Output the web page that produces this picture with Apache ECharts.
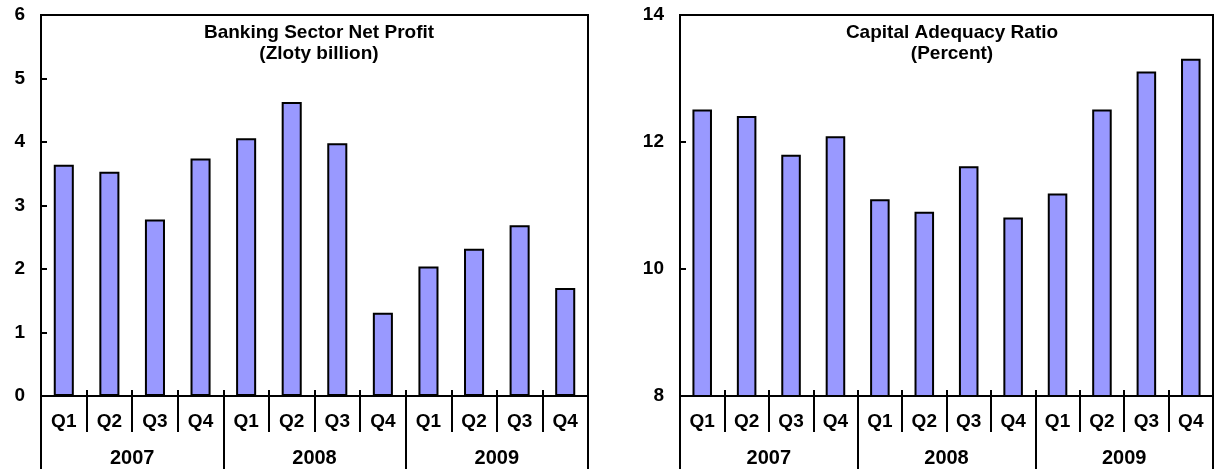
<!DOCTYPE html>
<html>
<head>
<meta charset="utf-8">
<script src="https://cdn.jsdelivr.net/npm/echarts@6/dist/echarts.min.js"></script>
<style>
  html, body { margin: 0; padding: 0; background: #fff; }
  #chart { width: 1215px; height: 469px; }
</style>
</head>
<body>
<div id="chart"></div>
<script>
// Quarterly banking indicators, 2007-2009
const quarters = ['Q1', 'Q2', 'Q3', 'Q4', 'Q1', 'Q2', 'Q3', 'Q4', 'Q1', 'Q2', 'Q3', 'Q4'];
const years = ['2007', '2008', '2009'];
const netProfit = [3.64, 3.53, 2.78, 3.74, 4.06, 4.63, 3.98, 1.31, 2.04, 2.32, 2.69, 1.70];
const capitalAdequacy = [12.51, 12.41, 11.80, 12.09, 11.10, 10.90, 11.62, 10.81, 11.19, 12.51, 13.11, 13.31];
const profitTitle = 'Banking Sector Net Profit\n(Zloty billion)';
const adequacyTitle = 'Capital Adequacy Ratio\n(Percent)';

const FONT = '"Liberation Sans", Arial, sans-serif';
const BLACK = '#000';

const grids = [
  { left: 41, right: 627, top: 15, bottom: 73 },
  { left: 680, right: 2, top: 15, bottom: 73 }
];

function xAxesFor(gridIndex) {
  return [
    // quarter labels, short ticks pointing up into the plot
    {
      gridIndex, type: 'category', data: quarters, position: 'bottom',
      axisLine: { lineStyle: { color: BLACK, width: 2 } },
      axisTick: { show: true, inside: true, length: 6, interval: 0, lineStyle: { color: BLACK, width: 2 } },
      axisLabel: { interval: 0, margin: 16, color: BLACK, fontSize: 19, fontWeight: 'bold', fontFamily: FONT },
      splitLine: { show: false }
    },
    // dividers between quarters below the axis
    {
      gridIndex, type: 'category', data: quarters, position: 'bottom',
      axisLine: { show: false },
      axisTick: { show: true, inside: false, length: 36, interval: 0, lineStyle: { color: BLACK, width: 2 } },
      axisLabel: { show: false },
      splitLine: { show: false }
    },
    // year groups with full-height separators
    {
      gridIndex, type: 'category', data: years, position: 'bottom',
      axisLine: { show: false },
      axisTick: { show: true, inside: false, length: 74, interval: 0, lineStyle: { color: BLACK, width: 2 } },
      axisLabel: { interval: 0, margin: 52, color: BLACK, fontSize: 20, fontWeight: 'bold', fontFamily: FONT },
      splitLine: { show: false }
    }
  ];
}

function yAxisFor(gridIndex, min, max, interval) {
  return {
    gridIndex, type: 'value', min, max, interval,
    axisLine: { show: true, lineStyle: { color: BLACK, width: 2 } },
    axisTick: { show: true, inside: true, length: 6, lineStyle: { color: BLACK, width: 2 } },
    axisLabel: { margin: 16, color: BLACK, fontSize: 19, fontWeight: 'bold', fontFamily: FONT },
    splitLine: { show: false }
  };
}

const barStyle = { color: '#9999ff', borderColor: BLACK, borderWidth: 2 };

const chart = echarts.init(document.getElementById('chart'), null, { renderer: 'canvas' });
chart.setOption({
  animation: false,
  backgroundColor: '#fff',
  title: [
    {
      text: profitTitle, left: 314, top: 17, textAlign: 'center',
      textStyle: { color: BLACK, fontSize: 19, fontWeight: 'bold', fontFamily: FONT, lineHeight: 21 }
    },
    {
      text: adequacyTitle, left: 947, top: 17, textAlign: 'center',
      textStyle: { color: BLACK, fontSize: 19, fontWeight: 'bold', fontFamily: FONT, lineHeight: 21 }
    }
  ],
  grid: grids.map(g => Object.assign({ show: true, borderColor: BLACK, borderWidth: 2, containLabel: false }, g)),
  xAxis: [...xAxesFor(0), ...xAxesFor(1)],
  yAxis: [yAxisFor(0, 0, 6, 1), yAxisFor(1, 8, 14, 2)],
  series: [
    { type: 'bar', xAxisIndex: 0, yAxisIndex: 0, data: netProfit, barWidth: '44%', itemStyle: barStyle },
    { type: 'bar', xAxisIndex: 3, yAxisIndex: 1, data: capitalAdequacy, barWidth: '44%', itemStyle: barStyle }
  ]
});
</script>
</body>
</html>
